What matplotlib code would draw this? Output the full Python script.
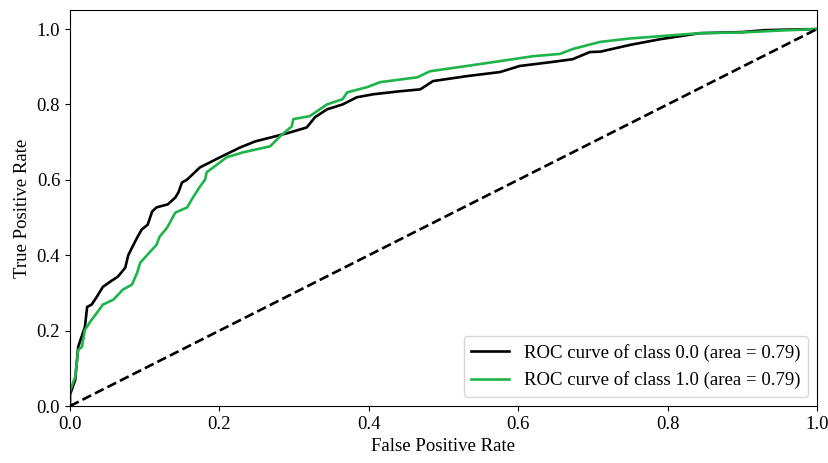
import matplotlib
matplotlib.use('Agg')
import matplotlib.pyplot as plt

plt.rcParams['font.family'] = ['Liberation Serif', 'DejaVu Serif']

# ROC points
fpr_0 = [0.0, 0.0, 0.007, 0.011, 0.020, 0.023, 0.029, 0.036, 0.044, 0.054, 0.064, 0.074,
         0.078, 0.083, 0.090, 0.096, 0.104, 0.110, 0.116, 0.131, 0.141, 0.145, 0.150,
         0.157, 0.174, 0.201, 0.228, 0.248, 0.270, 0.295, 0.317, 0.328, 0.344, 0.365,
         0.384, 0.406, 0.442, 0.469, 0.486, 0.531, 0.576, 0.602, 0.643, 0.673, 0.696,
         0.71, 0.75, 0.79, 0.843, 0.90, 0.93, 0.95, 1.0]
tpr_0 = [0.0, 0.03, 0.069, 0.157, 0.21, 0.263, 0.269, 0.29, 0.316, 0.33, 0.343, 0.367,
         0.40, 0.42, 0.447, 0.468, 0.481, 0.516, 0.527, 0.535, 0.553, 0.566, 0.593,
         0.601, 0.633, 0.66, 0.686, 0.702, 0.713, 0.726, 0.739, 0.766, 0.787, 0.80,
         0.819, 0.827, 0.835, 0.840, 0.862, 0.875, 0.886, 0.902, 0.912, 0.92, 0.939,
         0.94, 0.958, 0.973, 0.989, 0.992, 0.997, 0.998, 1.0]

fpr_1 = [0.0, 0.0, 0.007, 0.011, 0.016, 0.020, 0.029, 0.036, 0.044, 0.058, 0.071, 0.083,
         0.090, 0.094, 0.104, 0.116, 0.120, 0.130, 0.141, 0.157, 0.163, 0.174, 0.181,
         0.183, 0.21, 0.232, 0.268, 0.281, 0.297, 0.299, 0.321, 0.344, 0.365, 0.371,
         0.398, 0.415, 0.465, 0.482, 0.531, 0.576, 0.62, 0.656, 0.673, 0.71, 0.75,
         0.79, 0.843, 0.90, 0.95, 1.0]
tpr_1 = [0.0, 0.04, 0.077, 0.149, 0.157, 0.202, 0.229, 0.247, 0.269, 0.282, 0.309, 0.322,
         0.354, 0.38, 0.402, 0.428, 0.449, 0.473, 0.513, 0.527, 0.548, 0.582, 0.601,
         0.62, 0.66, 0.673, 0.689, 0.715, 0.742, 0.761, 0.769, 0.80, 0.814, 0.832,
         0.846, 0.859, 0.872, 0.888, 0.902, 0.915, 0.928, 0.934, 0.947, 0.966, 0.975,
         0.981, 0.989, 0.991, 0.996, 1.0]

labels = ['ROC curve of class 0.0 (area = 0.79)', 'ROC curve of class 1.0 (area = 0.79)']
colors = ['black', '#1db44a']

fig = plt.figure(figsize=(8.29, 4.63), dpi=100)
ax = fig.add_axes([0.0844, 0.123, 0.9011, 0.855])

ax.plot(fpr_0, tpr_0, color=colors[0], lw=1.9, label=labels[0])
ax.plot(fpr_1, tpr_1, color=colors[1], lw=1.9, label=labels[1])
ax.plot([0, 1], [0, 1], 'k--', lw=1.9)

ax.set_xlim([0.0, 1.0])
ax.set_ylim([0.0, 1.05])
ax.set_xlabel('False Positive Rate', fontsize=13.5)
ax.set_ylabel('True Positive Rate', fontsize=13.5)
ax.tick_params(labelsize=13.5)
ax.legend(loc='lower right', fontsize=13.5)

fig.savefig('out.png', dpi=100)
